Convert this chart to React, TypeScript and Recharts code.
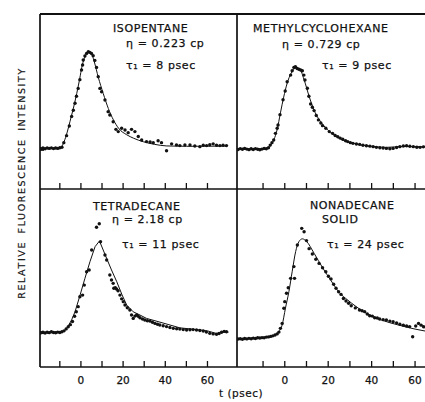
import React from "react";
import { ScatterChart, Scatter, XAxis, YAxis, ReferenceLine } from "recharts";

const INK = "#111";
const FONT = "'DejaVu Sans', sans-serif";

// time axis ticks (psec)
const TIME_TICKS = [-10, 0, 10, 20, 30, 40, 50, 60];
const TIME_LABELS = [0, 20, 40, 60];

type Pair = [number, number];

// isopentane: measured points and fitted curve, [t psec, intensity]
const ISOPENTANE_POINTS: Pair[] = [
  [-19, 23.1], [-18, 23.5], [-17, 23.0], [-16, 23.4], [-15, 23.2], [-14, 23.5], [-13, 23.1], [-12, 23.4],
  [-11, 23.2], [-10, 23.6], [-9, 23.9], [-8.1, 26.5], [-6.8, 30.5], [-5.5, 36], [-4.4, 41.5], [-3.6, 45],
  [-2.8, 49], [-2.1, 53], [-1.3, 57.5], [-0.5, 62.5], [0.3, 68], [0.8, 70.9], [1.1, 73.7], [1.9, 76],
  [2.7, 77.5], [3.5, 78.5], [4.2, 78.1], [5, 77.5], [5.8, 76.2], [6.6, 73.5], [7.4, 69.5], [8.2, 64.2],
  [9, 57.5], [9.8, 55.6], [11.4, 50.9], [12.9, 44.2], [13.7, 42.3], [15.3, 38.4], [16.6, 34.1], [17.7, 32.8],
  [19.3, 34.7], [20.9, 33.7], [22.4, 32.2], [24, 34.1], [25.6, 32.8], [27.2, 30], [28.8, 28], [31.1, 27.1],
  [32.8, 26.9], [34.3, 26.5], [36.6, 27.6], [38.2, 26.5], [40.6, 21.9], [43, 25.8], [45.3, 25.2], [46.9, 24.8],
  [49.3, 25.2], [51.7, 25.2], [54, 24.6], [56.4, 24.2], [58, 25], [59.6, 24.8], [61.1, 25.3], [62.7, 25.8],
  [64.3, 25], [65.9, 24.8], [67.4, 25], [69, 24.8],
];
const ISOPENTANE_FIT: Pair[] = [
  [-19.4, 23.3], [-10.5, 23.3], [-9.5, 23.6], [-8, 27], [-6.5, 32.5], [-5.2, 38.5], [-3.6, 46], [-2, 54.5],
  [-0.5, 63.5], [0.4, 69.5], [1.6, 74.5], [2.8, 77.3], [4, 78], [5.2, 76.8], [6.5, 72], [8.2, 64],
  [10.6, 54.5], [13, 46], [15.4, 39.5], [18, 34.5], [21.7, 31], [25, 29], [29.6, 27], [35, 25.5],
  [40.7, 24.6], [50, 24.4], [69, 24.5],
];

// methylcyclohexane
const METHYLCYCLOHEXANE_POINTS: Pair[] = [
  [-21.5, 22.6], [-20.5, 23.1], [-19.5, 22.7], [-18.5, 23.2], [-17.5, 22.8], [-16.5, 22.5], [-15.5, 23.0],
  [-14.5, 22.6], [-13.5, 23.1], [-12.5, 22.7], [-11.5, 22.4], [-10.5, 22.8], [-9.5, 23.2], [-8.5, 23.0],
  [-7.5, 23.6], [-6.7, 25.1], [-5.9, 26.5], [-5.1, 28], [-4.3, 31.8], [-3.5, 34.7], [-3.1, 36.6], [-2.2, 42.5],
  [-0.8, 51], [0.2, 56], [1.1, 61.3], [2.7, 65.1], [3.4, 67.6], [4.2, 69.5], [4.9, 69.9], [5.7, 68.9],
  [6.5, 68.4], [7.3, 68], [8.1, 67.6], [8.8, 65.1], [9.3, 62.3], [10.4, 57.6], [11.1, 53], [11.9, 48.6],
  [12.7, 46.7], [13.5, 44.8], [14.5, 42], [15.5, 39.5], [16.6, 37.7], [17.4, 36.2], [18.9, 34.7], [20.5, 32.8],
  [22, 31.8], [23.2, 30.6], [24.4, 29.9], [25.5, 29.1], [26.7, 28.4], [28, 27.6], [29, 27.1], [30.2, 26.5],
  [31.4, 26.1], [33, 25.7], [34.5, 25.5], [36, 25.0], [37.6, 24.7], [39.2, 24.5], [40.7, 24.2], [42.2, 23.8],
  [43.8, 23.6], [45.3, 23.4], [46.8, 23.2], [48.4, 23.0], [49.9, 23.2], [51.5, 23.7], [53, 24.2], [54.6, 24.6],
  [56.1, 24.7], [57.6, 24.4], [59.2, 24.2], [60.8, 23.9], [62.3, 23.8], [63.8, 24.1], [65.2, 24.2],
];
const METHYLCYCLOHEXANE_FIT: Pair[] = [
  [-22, 22.9], [-10, 22.9], [-7.5, 23.4], [-6.5, 25], [-5, 28.2], [-3.5, 34], [-2, 43.5], [-0.5, 52.5],
  [1, 60], [3, 66.3], [5, 69], [7, 68.3], [8.8, 62.8], [11.2, 53], [13.5, 45], [15.5, 40.3], [17.4, 37],
  [20, 33.5], [22, 31.5], [25, 29], [28.2, 27.2], [33, 25.7], [37.5, 24.8], [46.8, 23.8], [54.6, 24.3], [65.5, 24.1],
];

// tetradecane
const TETRADECANE_POINTS: Pair[] = [
  [-19, 19.2], [-18, 19.6], [-17, 19.1], [-16, 19.5], [-15, 19.3], [-14, 19.8], [-13, 19.4], [-12, 19.2],
  [-11, 19.6], [-10, 19.4], [-9, 19.8], [-8, 20.3], [-7, 21.4], [-6, 22.6], [-5, 23.8], [-4, 25.6], [-3, 28.5],
  [-2.2, 31], [-1.3, 33.9], [-0.5, 39.5], [0.8, 40.4], [1.6, 46], [2.7, 53.5], [3.9, 54.5], [5.1, 65.7],
  [7.4, 78.5], [8.7, 80.5], [9.3, 70.4], [11.4, 62.9], [12.2, 60.1], [13.7, 51.7], [14.5, 48.9], [15.3, 47],
  [15.6, 44.2], [16.3, 44.5], [16.9, 43.8], [17.6, 42.8], [18.5, 40.4], [19.3, 38.3], [20.1, 36.7], [20.9, 34.8],
  [22, 33.3], [23.2, 32], [24, 29.2], [24.8, 27.3], [25.6, 28.6], [26.4, 29.2], [27.2, 28.5], [28, 27.7],
  [29.2, 27], [30.3, 26.4], [31.5, 26], [32.7, 25.8], [33.9, 25.1], [35.1, 24.5], [36.3, 24], [37.4, 23.6],
  [39, 23.2], [40.6, 22.7], [42.2, 22.2], [43.8, 21.7], [45.4, 21.5], [46.9, 21.3], [48.5, 21], [50.1, 20.8],
  [51.7, 20.9], [53.2, 21], [54.8, 20.8], [56.4, 20.5], [58, 20.2], [59.5, 19.6], [61.1, 18.9], [62.7, 18.6],
  [64.3, 18.4], [65.5, 18.8], [66.7, 19.5], [67.9, 20], [69, 19.8],
];
const TETRADECANE_FIT: Pair[] = [
  [-19.4, 19.5], [-10, 19.6], [-8, 20.2], [-6, 23], [-4.4, 26.5], [-2.8, 31], [-0.4, 40.4], [1.9, 49.8],
  [4.3, 59.2], [6.7, 67.6], [8.8, 70.8], [12.2, 61], [14.5, 54.5], [17, 47.9], [19.5, 40.5], [21.7, 34.8],
  [24.8, 31], [28, 29.2], [31.1, 27.3], [37.5, 25.2], [46.9, 22], [56.4, 20.8], [60, 20.3], [64.3, 18.8],
  [67, 19.8], [70, 19.6],
];

// nonadecane (solid)
const NONADECANE_POINTS: Pair[] = [
  [-21.5, 15.7], [-20.5, 15.9], [-19.5, 15.6], [-18.5, 16], [-17.5, 15.8], [-16.5, 16.1], [-15.5, 15.9],
  [-14.5, 16.2], [-13.5, 16], [-12.5, 16.4], [-11.5, 16.3], [-10.5, 16.5], [-9.5, 16.4], [-8.5, 16.8],
  [-7.5, 16.9], [-6.5, 17.2], [-5.5, 17.5], [-4.5, 18], [-3.5, 18.6], [-2.7, 19.6], [-2, 21.7], [-1.2, 24.5],
  [-0.4, 33], [0, 36.7], [0.8, 41.4], [1.6, 44.5], [2.7, 49.8], [4.5, 49.8], [4.2, 56.4], [5.8, 68.5],
  [7.8, 77.9], [8.9, 76], [10, 71], [11.2, 66.5], [12.7, 63.5], [14.3, 60.5], [15.8, 58.2], [17.4, 55.8],
  [18.9, 53.5], [20.1, 51], [21.3, 49.5], [22.5, 46.5], [23.6, 44.2], [24.8, 42.3], [25.9, 40.8], [27, 38.5],
  [28.2, 37.1], [29.4, 35.8], [30.6, 34.4], [32.5, 33.2], [34.4, 32], [35.6, 31.6], [36.8, 31.1], [38, 29.8],
  [39.1, 28.8], [40.3, 28.6], [41.4, 27.7], [42.6, 27.5], [43.7, 27], [45.3, 26.6], [46.8, 26.4], [48.4, 25.8],
  [49.9, 25.4], [51.5, 24.8], [53, 24], [54.6, 23.5], [56.1, 23], [57.5, 22.7], [58.9, 17], [60.3, 23],
  [61.6, 24.5], [62.8, 23.5], [63.9, 22.6], [65.2, 22],
];
const NONADECANE_FIT: Pair[] = [
  [-22, 15.8], [-15, 16], [-10, 16.5], [-6, 17.2], [-4, 18.2], [-2.8, 19.8], [-1.2, 23.6], [0.3, 33],
  [1.9, 42.3], [3.4, 53.5], [5, 64.8], [6.5, 70.4], [8.1, 72], [10, 70.6], [13.5, 63.9], [17.4, 55.8],
  [21.3, 48.5], [25, 42], [29, 37.6], [32.8, 34], [36.8, 30.7], [44.5, 26.4], [52.3, 23.6], [60, 21.3], [65.5, 20],
];

const toRows = (pairs: Pair[]) => pairs.map(([t, i]) => ({ t, i }));

const PAD = 3;
const AXIS_H = 24;
const FRAME = { stroke: INK, strokeWidth: 1.7 };

const DataDot = (props: any) => <circle cx={props.cx} cy={props.cy} r={1.7} fill={INK} />;
const NoDot = () => <g />;

function TimeTick({ x, y, payload, labelled }: any) {
  return (
    <g>
      <line x1={x} y1={y} x2={x} y2={y - 6} stroke={INK} strokeWidth={1.3} />
      {labelled && TIME_LABELS.includes(payload.value) && (
        <text x={x} y={y + 16.5} textAnchor="middle" fontSize={10.5} fontFamily={FONT} fill={INK}
          stroke={INK} strokeWidth={0.25}>
          {payload.value}
        </text>
      )}
    </g>
  );
}

function BaseMark({ x, y, show }: any) {
  if (!show) return <g />;
  return <line x1={x} y1={y} x2={x + 4} y2={y} stroke={INK} strokeWidth={2.5} />;
}

function Panel({ x, y, w, h, tDomain, points, fit, baseline, labelled, topEdge, fitType }: any) {
  return (
    <div style={{ position: "absolute", left: x - PAD, top: y - PAD }}>
      <ScatterChart
        width={w + PAD * 2}
        height={h + PAD + AXIS_H}
        margin={{ top: PAD, right: PAD, bottom: 0, left: PAD - 1 }}
      >
        <XAxis
          type="number"
          dataKey="t"
          domain={tDomain}
          ticks={TIME_TICKS}
          allowDataOverflow
          interval={0}
          height={AXIS_H}
          tickSize={0}
          tickMargin={0}
          axisLine={FRAME}
          tick={<TimeTick labelled={labelled} />}
        />
        <YAxis
          type="number"
          dataKey="i"
          domain={[0, 100]}
          allowDataOverflow
          width={1}
          ticks={[baseline ?? 0]}
          tickSize={0}
          tickMargin={0}
          axisLine={FRAME}
          tick={<BaseMark show={baseline != null} />}
        />
        {topEdge && <ReferenceLine y={100} stroke={INK} strokeWidth={2} />}
        <Scatter
          data={toRows(fit)}
          line={{ stroke: INK, strokeWidth: 1 }}
          lineJointType={fitType}
          shape={<NoDot />}
          isAnimationActive={false}
        />
        <Scatter data={toRows(points)} shape={<DataDot />} isAnimationActive={false} />
      </ScatterChart>
    </div>
  );
}

const LEFT_T: [number, number] = [-19.4, 74];
const RIGHT_T: [number, number] = [-22, 65.5];

export default function App() {
  const txt = { fontFamily: FONT, fontSize: 11, fill: INK, stroke: INK, strokeWidth: 0.25, letterSpacing: 0.6 } as const;
  return (
    <div
      style={{
        position: "absolute",
        left: 0,
        top: 0,
        width: 425,
        height: 402,
        overflow: "hidden",
        background: "#fff",
      }}
    >
      <Panel x={40} y={14} w={197} h={175} tDomain={LEFT_T} points={ISOPENTANE_POINTS} fit={ISOPENTANE_FIT}
        baseline={22.5} labelled={false} topEdge fitType="monotoneX" />
      <Panel x={237} y={14} w={190} h={175} tDomain={RIGHT_T} points={METHYLCYCLOHEXANE_POINTS}
        fit={METHYLCYCLOHEXANE_FIT} labelled={false} topEdge fitType="monotoneX" />
      <Panel x={40} y={189} w={197} h={178} tDomain={LEFT_T} points={TETRADECANE_POINTS} fit={TETRADECANE_FIT}
        baseline={19.2} labelled topEdge={false} fitType="linear" />
      <Panel x={237} y={189} w={190} h={178} tDomain={RIGHT_T} points={NONADECANE_POINTS} fit={NONADECANE_FIT}
        labelled topEdge={false} fitType="monotoneX" />

      <svg width={425} height={402} style={{ position: "absolute", left: 0, top: 0, pointerEvents: "none" }}>
        <text x={113} y={32} {...txt}>ISOPENTANE</text>
        <text x={126} y={47} {...txt}>η = 0.223 cp</text>
        <text x={126} y={69} {...txt}>τ₁ = 8 psec</text>

        <text x={253} y={31.5} {...txt}>METHYLCYCLOHEXANE</text>
        <text x={282} y={48} {...txt}>η = 0.729 cp</text>
        <text x={322} y={68.5} {...txt}>τ₁ = 9 psec</text>

        <text x={93} y={210} {...txt}>TETRADECANE</text>
        <text x={112} y={223} {...txt}>η = 2.18 cp</text>
        <text x={122} y={248} {...txt}>τ₁ = 11 psec</text>

        <text x={310} y={208.5} {...txt}>NONADECANE</text>
        <text x={322} y={223} {...txt}>SOLID</text>
        <text x={327} y={248} {...txt}>τ₁ = 24 psec</text>

        <text
          transform="rotate(-90)"
          x={-183}
          y={25}
          textAnchor="middle"
          fontFamily={FONT}
          fontSize={9.5}
          fill={INK}
          stroke={INK}
          strokeWidth={0.2}
          letterSpacing={1.6}
          wordSpacing={3}
        >
          RELATIVE FLUORESCENCE INTENSITY
        </text>
        <text x={219} y={397} fontFamily={FONT} fontSize={10.5} fill={INK} stroke={INK} strokeWidth={0.2}
          letterSpacing={0.5}>
          t (psec)
        </text>
      </svg>
    </div>
  );
}
